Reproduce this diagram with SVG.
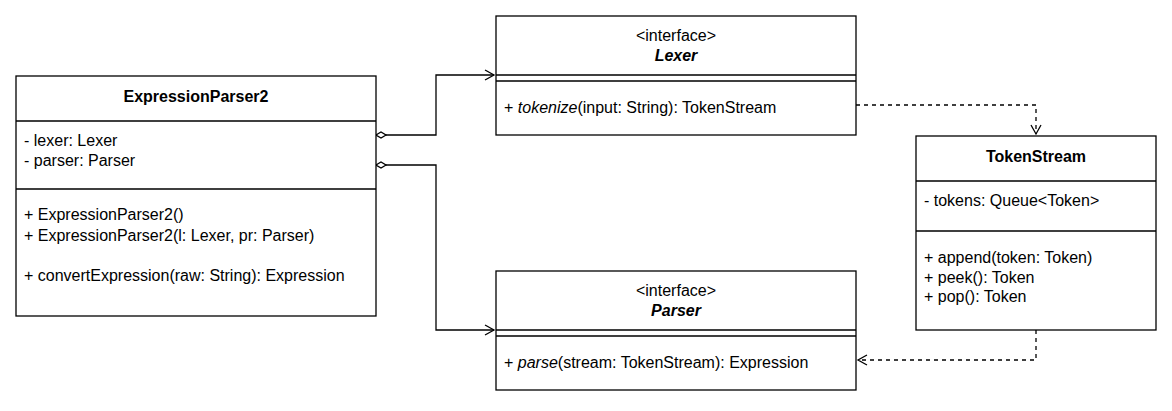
<svg xmlns="http://www.w3.org/2000/svg" width="1172" height="411" viewBox="0 0 1172 411">
<style>
.box{fill:#fff;stroke:#000;stroke-width:1.3}
.ln{stroke:#000;stroke-width:1.3;fill:none}
text{font-family:"Liberation Sans",Arial,sans-serif;font-size:16px;fill:#000}
.b{font-weight:bold}
.c{text-anchor:middle}
.dash{stroke-dasharray:4 4}
</style>
<defs>
<marker id="open" markerWidth="12" markerHeight="12" refX="10" refY="6" orient="auto" markerUnits="userSpaceOnUse"><path d="M1,1 L10,6 L1,11" fill="none" stroke="#000" stroke-width="1.3"/></marker>
<marker id="dia" markerWidth="14" markerHeight="10" refX="1" refY="5" orient="auto" markerUnits="userSpaceOnUse"><path d="M1,5 L6,2 L11,5 L6,8 Z" fill="#fff" stroke="#000" stroke-width="1.3"/></marker>
</defs>
<g id="connectors">
<path class="ln" d="M376,135 H436 V75 H494" marker-start="url(#dia)" marker-end="url(#open)"/>
<path class="ln" d="M376,165 H436 V330 H494" marker-start="url(#dia)" marker-end="url(#open)"/>
<path class="ln dash" d="M856,105 H1036 V134" marker-end="url(#open)"/>
<path class="ln dash" d="M1036,330 V360 H858" marker-end="url(#open)"/>
</g>
<g id="ExpressionParser2">
<rect class="box" x="16" y="76" width="360" height="240"/>
<path class="ln" d="M16,121 H376 M16,189 H376"/>
<text class="b c" x="196" y="102">ExpressionParser2</text>
<text x="24" y="146">- lexer: Lexer</text>
<text x="24" y="166">- parser: Parser</text>
<text x="24" y="220">+ ExpressionParser2()</text>
<text x="24" y="241">+ ExpressionParser2(l: Lexer, pr: Parser)</text>
<text x="24" y="281">+ convertExpression(raw: String): Expression</text>
</g>
<g id="Lexer">
<rect class="box" x="496" y="16" width="360" height="119"/>
<path class="ln" d="M496,75 H856 M496,81 H856"/>
<text class="c" x="676" y="41">&lt;interface&gt;</text>
<text class="b c" x="676" y="61" font-style="italic">Lexer</text>
<text x="504" y="113">+ <tspan font-style="italic">tokenize</tspan>(input: String): TokenStream</text>
</g>
<g id="Parser">
<rect class="box" x="496" y="271" width="360" height="119"/>
<path class="ln" d="M496,330 H856 M496,336 H856"/>
<text class="c" x="676" y="296">&lt;interface&gt;</text>
<text class="b c" x="676" y="316" font-style="italic">Parser</text>
<text x="504" y="368">+ <tspan font-style="italic">parse</tspan>(stream: TokenStream): Expression</text>
</g>
<g id="TokenStream">
<rect class="box" x="916" y="136" width="240" height="194"/>
<path class="ln" d="M916,181 H1156 M916,231 H1156"/>
<text class="b c" x="1036" y="162">TokenStream</text>
<text x="924" y="206">- tokens: Queue&lt;Token&gt;</text>
<text x="924" y="263">+ append(token: Token)</text>
<text x="924" y="283">+ peek(): Token</text>
<text x="924" y="302">+ pop(): Token</text>
</g>
</svg>
